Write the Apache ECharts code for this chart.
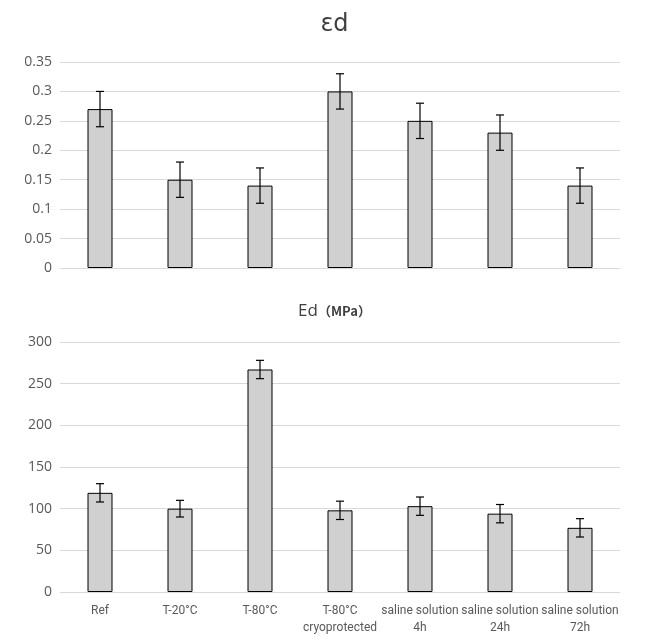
<!DOCTYPE html>
<html>
<head>
<meta charset="UTF-8">
<style>
  * { margin: 0; padding: 0; }
  body { background: #fff; }
  #chart { width: 669px; height: 640px; }
</style>
</head>
<body>
<div id="chart"></div>
<script src="https://cdn.jsdelivr.net/npm/echarts@6/dist/echarts.min.js"></script>
<script>
const categories = ['Ref', 'T-20°C', 'T-80°C', 'T-80°C\ncryoprotected',
  'saline solution\n4h', 'saline solution\n24h', 'saline solution\n72h'];
const strainValues = [0.27, 0.15, 0.14, 0.30, 0.25, 0.23, 0.14];
const strainErrors = [0.03, 0.03, 0.03, 0.03, 0.03, 0.03, 0.03];
const modulusValues = [119, 100, 267, 98, 103, 94, 77];
const modulusErrors = [11, 10, 11, 11, 11, 11, 11];

const chart = echarts.init(document.getElementById('chart'));
const axisText = { color: '#595959', fontSize: 14, fontFamily: 'Open Sans' };

const errorSeries = (vals, errs, idx) => ({
  type: 'custom',
  xAxisIndex: idx, yAxisIndex: idx,
  data: vals.map((v, i) => [i, v - errs[i], v + errs[i]]),
  z: 10,
  renderItem: (params, api) => {
    const lo = api.coord([api.value(0), api.value(1)]);
    const hi = api.coord([api.value(0), api.value(2)]);
    const w = 4;
    const st = { stroke: '#000', lineWidth: 1.2 };
    return { type: 'group', children: [
      { type: 'line', shape: { x1: lo[0], y1: lo[1], x2: hi[0], y2: hi[1] }, style: st },
      { type: 'line', shape: { x1: lo[0] - w, y1: lo[1], x2: lo[0] + w, y2: lo[1] }, style: st },
      { type: 'line', shape: { x1: hi[0] - w, y1: hi[1], x2: hi[0] + w, y2: hi[1] }, style: st }
    ]};
  }
});

const barSeries = (vals, idx) => ({
  type: 'bar', xAxisIndex: idx, yAxisIndex: idx, data: vals, barWidth: 25,
  itemStyle: { color: '#d0d0d0', borderColor: '#000', borderWidth: 1 }
});

chart.setOption({
  animation: false,
  title: [
    { text: 'εd', left: 'center', top: 8, textStyle: { fontSize: 24, fontWeight: 'normal', color: '#404040', fontFamily: 'DejaVu Sans' } },
    { text: '{a|Ed}{b|（MPa）}', left: 'center', top: 298,
      textStyle: { fontWeight: 'normal', rich: {
        a: { fontSize: 17, fontWeight: 'normal', color: '#404040', fontFamily: 'Open Sans' },
        b: { fontSize: 13, fontWeight: 'bold', color: '#404040', fontFamily: 'Noto Sans CJK SC' } } } }
  ],
  grid: [
    { left: 60, right: 49, top: 62, height: 206 },
    { left: 60, right: 49, top: 342, height: 250 }
  ],
  xAxis: [0, 1].map(i => ({
    type: 'category', gridIndex: i, data: categories,
    axisLine: { lineStyle: { color: '#d9d9d9' } }, axisTick: { show: false },
    axisLabel: i === 0 ? { show: false } : { ...axisText, fontSize: 12, fontFamily: 'Roboto', interval: 0, lineHeight: 17, margin: 10, verticalAlign: 'top' }
  })),
  yAxis: [
    { type: 'value', gridIndex: 0, min: 0, max: 0.35, interval: 0.05,
      axisLabel: { ...axisText, formatter: v => String(+v.toFixed(2)) },
      splitLine: { lineStyle: { color: '#d9d9d9' } } },
    { type: 'value', gridIndex: 1, min: 0, max: 300, interval: 50,
      axisLabel: axisText, splitLine: { lineStyle: { color: '#d9d9d9' } } }
  ],
  series: [
    barSeries(strainValues, 0), errorSeries(strainValues, strainErrors, 0),
    barSeries(modulusValues, 1), errorSeries(modulusValues, modulusErrors, 1)
  ]
});
</script>
</body>
</html>
